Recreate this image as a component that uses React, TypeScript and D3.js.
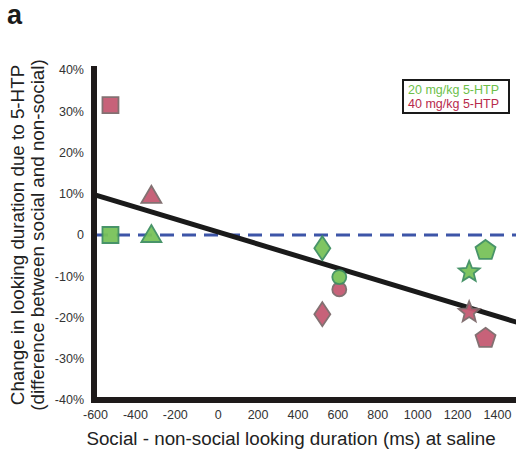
import { useEffect, useRef } from 'react';
import * as d3 from 'd3';

const W = 516;
const H = 453;
const MARGIN = { top: 70, right: 0, bottom: 53, left: 94 };

const xTicks = [-600, -400, -200, 0, 200, 400, 600, 800, 1000, 1200, 1400];
const yTicks = [40, 30, 20, 10, 0, -10, -20, -30, -40];

// one row per animal/marker: saline difference (ms), change (%) at each dose
const shapes = ['square', 'triangle', 'diamond', 'circle', 'star', 'pentagon'];
const salineMs = [-540, -335, 522, 607, 1258, 1340];
const dose20 = [0, 0, -3.2, -10.2, -8.7, -3.5];
const dose40 = [31.5, 9.5, -19.2, -13.2, -18.5, -24.8];

const fitX = [-622, 1500];
const fitY = [9.8, -21.2];

const GREEN = '#79c25a';
const GREEN_STROKE = '#3f8f62';
const RED = '#c55a72';
const RED_STROKE = '#7d6a6b';

function shapePath(kind: string, cx: number, cy: number): string {
  const pts: [number, number][] = [];
  if (kind === 'circle') {
    const p = d3.path();
    p.arc(cx, cy, 7, 0, Math.PI * 2);
    return p.toString();
  }
  if (kind === 'square') {
    const s = 8;
    pts.push([cx - s, cy - s], [cx + s, cy - s], [cx + s, cy + s], [cx - s, cy + s]);
  } else if (kind === 'triangle') {
    pts.push([cx, cy - 10], [cx + 10, cy + 7], [cx - 10, cy + 7]);
  } else if (kind === 'diamond') {
    pts.push([cx, cy - 12], [cx + 8, cy], [cx, cy + 12], [cx - 8, cy]);
  } else if (kind === 'pentagon') {
    for (let i = 0; i < 5; i++) {
      const a = -Math.PI / 2 + (i * 2 * Math.PI) / 5;
      pts.push([cx + 10.5 * Math.cos(a), cy + 10.5 * Math.sin(a) + 1]);
    }
  } else if (kind === 'star') {
    for (let i = 0; i < 10; i++) {
      const a = -Math.PI / 2 + (i * Math.PI) / 5;
      const r = i % 2 === 0 ? 11 : 4.8;
      pts.push([cx + r * Math.cos(a), cy + r * Math.sin(a) + 1]);
    }
  }
  return 'M' + pts.map(p => p.join(',')).join('L') + 'Z';
}

export default function App() {
  const svgRef = useRef<SVGSVGElement>(null);

  useEffect(() => {
    document.body.style.margin = '0';
    const svg = d3.select(svgRef.current);
    svg.selectAll('*').remove();

    const x = d3.scaleLinear().domain([-600, 1400]).range([98.5, 497.5]);
    const y = d3.scaleLinear().domain([-40, 40]).range([400, 70]);
    const font = 'Liberation Sans, Arial, Helvetica, sans-serif';

    svg.append('rect').attr('width', W).attr('height', H).attr('fill', '#fff');

    // panel letter
    svg.append('text').attr('x', 7).attr('y', 24)
      .attr('font-family', font).attr('font-size', 27).attr('font-weight', 700)
      .attr('fill', '#1a1a1a').text('a');

    // zero line
    svg.append('line')
      .attr('x1', MARGIN.left).attr('x2', W)
      .attr('y1', y(0)).attr('y2', y(0))
      .attr('stroke', '#3d55a8').attr('stroke-width', 3)
      .attr('stroke-dasharray', '14,8');

    // fit line
    svg.append('line')
      .attr('x1', x(fitX[0])).attr('x2', x(fitX[1]))
      .attr('y1', y(fitY[0])).attr('y2', y(fitY[1]))
      .attr('stroke', '#1a1a1a').attr('stroke-width', 5);

    // markers
    const g = svg.append('g');
    shapes.forEach((s, i) => {
      g.append('path').attr('d', shapePath(s, x(salineMs[i]), y(dose40[i])))
        .attr('fill', RED).attr('stroke', RED_STROKE).attr('stroke-width', 1.8)
        .attr('stroke-linejoin', 'miter').attr('opacity', 0.95);
    });
    shapes.forEach((s, i) => {
      g.append('path').attr('d', shapePath(s, x(salineMs[i]), y(dose20[i])))
        .attr('fill', GREEN).attr('stroke', GREEN_STROKE).attr('stroke-width', 1.8)
        .attr('opacity', 0.95);
    });

    // axes
    svg.append('line')
      .attr('x1', MARGIN.left).attr('x2', MARGIN.left)
      .attr('y1', 66).attr('y2', 403)
      .attr('stroke', '#1e1a1a').attr('stroke-width', 6);
    svg.append('line')
      .attr('x1', MARGIN.left - 3).attr('x2', W)
      .attr('y1', 400).attr('y2', 400)
      .attr('stroke', '#1e1a1a').attr('stroke-width', 6);

    svg.append('g').selectAll('text').data(yTicks).join('text')
      .attr('x', 84).attr('y', d => y(d)).attr('dy', '0.35em')
      .attr('text-anchor', 'end').attr('font-family', font).attr('font-size', 12.5)
      .attr('fill', '#333').text(d => (d === 0 ? '0' : `${d}%`));

    svg.append('g').selectAll('text').data(xTicks).join('text')
      .attr('x', d => x(d) - (d < 0 ? 3 : 0)).attr('y', 419)
      .attr('text-anchor', 'middle').attr('font-family', font).attr('font-size', 12.5)
      .attr('fill', '#333').text(d => `${d}`);

    svg.append('text').attr('x', 291).attr('y', 445)
      .attr('text-anchor', 'middle').attr('font-family', font).attr('font-size', 18.8)
      .attr('fill', '#222').text('Social - non-social looking duration (ms) at saline');

    const yl = svg.append('text').attr('transform', 'translate(24,235) rotate(-90)')
      .attr('text-anchor', 'middle').attr('font-family', font).attr('font-size', 18.8)
      .attr('fill', '#222');
    yl.append('tspan').attr('x', 0).attr('y', 0).text('Change in looking duration due to 5-HTP');
    yl.append('tspan').attr('x', 0).attr('y', 20).text('(difference between social and non-social)');

    // legend
    svg.append('rect').attr('x', 403).attr('y', 80).attr('width', 106).attr('height', 33)
      .attr('fill', '#fff').attr('stroke', '#1a1a1a').attr('stroke-width', 2);
    svg.append('text').attr('x', 408).attr('y', 94).attr('font-family', font)
      .attr('font-size', 12.5).attr('fill', '#6cbf4a').text('20 mg/kg 5-HTP');
    svg.append('text').attr('x', 408).attr('y', 108).attr('font-family', font)
      .attr('font-size', 12.5).attr('fill', '#b82a4c').text('40 mg/kg 5-HTP');
  }, []);

  return <svg ref={svgRef} width={W} height={H} style={{ display: 'block' }} />;
}
